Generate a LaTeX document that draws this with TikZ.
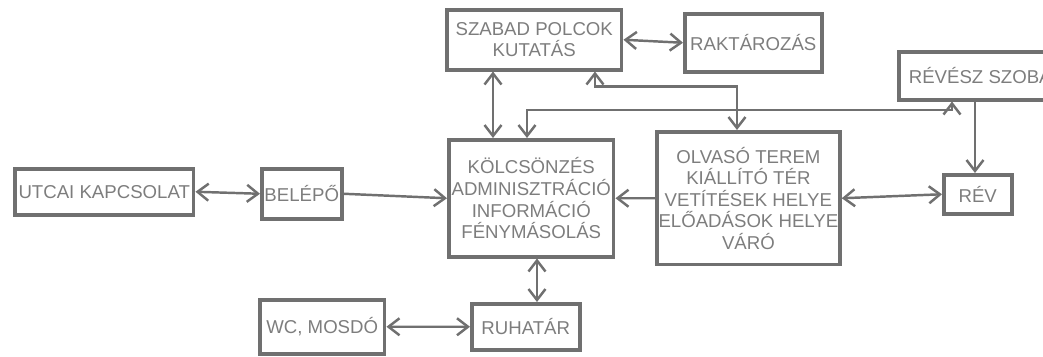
\documentclass[tikz,border=0pt]{standalone}
\usepackage{fontspec}
\setmainfont{Liberation Sans}
\usetikzlibrary{arrows.meta}
\definecolor{sketch}{RGB}{112,112,112}
\definecolor{sketchtext}{RGB}{125,125,125}
\begin{document}
\begin{tikzpicture}[x=0.02cm,y=-0.02cm,
every node/.style={
rectangle,
align = center,
anchor=north west,
inner sep=1pt,
text=sketchtext,
font=\fontsize{10.6}{12.3}\selectfont,
},
box/.style={
draw=sketch,
line width=2pt,
},
link/.style={
draw=sketch,
line width=1.4pt,
},
>={Straight Barb[length=2.2mm,width=3.4mm]}]

\clip(0,0)rectangle(1043,356);

%rooms
\node[box,minimum width=3.5cm,minimum height=1.2cm](szabad)at(445,8){SZABAD POLCOK\\KUTATÁS};
\node[box,minimum width=2.74cm,minimum height=1.16cm](raktar)at(683,12){RAKTÁROZÁS};
\node[box,minimum width=3.26cm,minimum height=0.96cm](revesz)at(897,50){RÉVÉSZ SZOBA};
\node[box,minimum width=3.58cm,minimum height=0.92cm](utcai)at(13,167){UTCAI KAPCSOLAT};
\node[box,minimum width=1.6cm,minimum height=1cm](belepo)at(260,167){BELÉPŐ};
\node[box,minimum width=3.3cm,minimum height=2.34cm](kolcs)at(447,138){KÖLCSÖNZÉS\\ADMINISZTRÁCIÓ\\INFORMÁCIÓ\\FÉNYMÁSOLÁS};
\node[box,minimum width=3.6cm,minimum height=2.66cm](olvaso)at(655,130){OLVASÓ TEREM\\KIÁLLÍTÓ TÉR\\VETÍTÉSEK HELYE\\ELŐADÁSOK HELYE\\VÁRÓ};
\node[box,minimum width=1.36cm,minimum height=0.78cm](rev)at(942,173){RÉV};
\node[box,minimum width=2.5cm,minimum height=1.08cm](wc)at(258,298){WC, MOSDÓ};
\node[box,minimum width=2.16cm,minimum height=0.92cm](ruha)at(470,302){RUHATÁR};

%connections
\draw[link,<->](utcai.east)--(belepo.west);
\draw[link,->](belepo.east)--(kolcs.west);
\draw[link,->](olvaso.west)--(kolcs.east);
\draw[link,<->](olvaso.east)--(rev.west);
\draw[link,<->](szabad.east)--(raktar.west);
\draw[link,<->]([xshift=0.96cm]szabad.south west)--([xshift=0.96cm]szabad.south west|-kolcs.north);
\draw[link,<->]([xshift=3cm]szabad.south west)--++(0,15)-|([xshift=1.64cm]olvaso.north west);
\draw[link,<->]([xshift=1.6cm]kolcs.north west)--++(0,-28)-|([xshift=1.1cm]revesz.south west);
\draw[link,->]([xshift=1.56cm]revesz.south west)--([xshift=1.56cm]revesz.south west|-rev.north);
\draw[link,<->]([xshift=1.8cm]kolcs.south west)--([xshift=1.8cm]kolcs.south west|-ruha.north);
\draw[link,<->](wc.east)--(ruha.west);
\end{tikzpicture}
\end{document}
